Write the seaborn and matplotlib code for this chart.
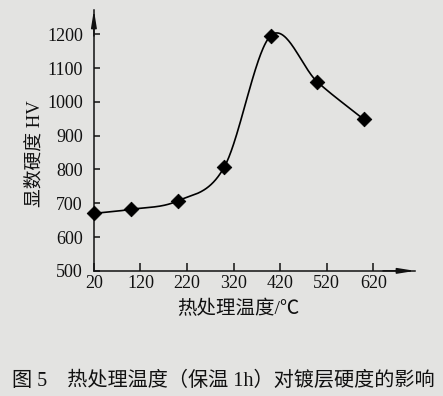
import numpy as np
import pandas as pd
import matplotlib
matplotlib.use("Agg")
import matplotlib.pyplot as plt
import seaborn as sns

# data
temps = [20, 100, 200, 300, 400, 500, 600]
hardness = [670, 682, 707, 807, 1196, 1059, 948]
xticks = [20, 120, 220, 320, 420, 520, 620]
yticks = [500, 600, 700, 800, 900, 1000, 1100, 1200]

xlabel = "热处理温度/℃"
ylabel = "显数硬度 HV"
caption = "图 5　热处理温度（保温 1h）对镀层硬度的影响"

bg = "#e3e3e1"
fonts = ["Liberation Serif", "Noto Sans CJK SC", "DejaVu Sans"]


def smooth_curve(x, y, per_seg=60):
    # Catmull-Rom style Hermite curve through the measured points
    x = np.asarray(x, float)
    y = np.asarray(y, float)
    n = len(x)
    m = np.empty(n)
    m[0] = (y[1] - y[0]) / (x[1] - x[0])
    m[-1] = (y[-1] - y[-2]) / (x[-1] - x[-2])
    m[1:-1] = (y[2:] - y[:-2]) / (x[2:] - x[:-2])
    xs, ys = [], []
    for i in range(n - 1):
        dx = x[i + 1] - x[i]
        t = np.linspace(0, 1, per_seg, endpoint=(i == n - 2))
        h00 = 2 * t**3 - 3 * t**2 + 1
        h10 = t**3 - 2 * t**2 + t
        h01 = -2 * t**3 + 3 * t**2
        h11 = t**3 - t**2
        xs.append(x[i] + t * dx)
        ys.append(h00 * y[i] + h10 * dx * m[i] + h01 * y[i + 1] + h11 * dx * m[i + 1])
    return np.concatenate(xs), np.concatenate(ys)


sns.set_style("ticks")
plt.rcParams["font.family"] = fonts

df = pd.DataFrame({"temp": temps, "hv": hardness})
cx, cy = smooth_curve(temps, hardness)
curve = pd.DataFrame({"temp": cx, "hv": cy})

fig = plt.figure(figsize=(4.43, 3.96), dpi=100)
fig.patch.set_facecolor(bg)
ax = fig.add_axes([0.212, 0.316, 0.725, 0.659])
ax.set_facecolor(bg)

sns.lineplot(data=curve, x="temp", y="hv", ax=ax, color="black", lw=1.2,
             sort=False, estimator=None)
sns.scatterplot(data=df, x="temp", y="hv", ax=ax, marker="D", s=55,
                color="black", edgecolor="black", zorder=5, clip_on=False)

ax.set_xlim(20, 710)
ax.set_ylim(500, 1272)
ax.set_xticks(xticks)
ax.set_yticks(yticks)
ax.set_xlabel("")
ax.set_ylabel("")
for s in ["top", "right"]:
    ax.spines[s].set_visible(False)
for s in ["left", "bottom"]:
    ax.spines[s].set_linewidth(1.1)
    ax.spines[s].set_color("#111111")
ax.tick_params(axis="x", direction="in", length=5.5, width=1.1, pad=3,
               labelsize=13, colors="#111111")
ax.tick_params(axis="y", direction="in", length=4, width=1.1, pad=8,
               labelsize=13, colors="#111111")

# axis arrows
ax.annotate("", xy=(1.0, 0), xytext=(0.9, 0), xycoords="axes fraction",
            arrowprops=dict(arrowstyle="-|>,head_length=1.0,head_width=0.16",
                            color="#111111", lw=1.1, shrinkA=0, shrinkB=0))
ax.annotate("", xy=(0, 1.0), xytext=(0, 0.9), xycoords="axes fraction",
            arrowprops=dict(arrowstyle="-|>,head_length=1.0,head_width=0.16",
                            color="#111111", lw=1.1, shrinkA=0, shrinkB=0))

fig.text(238 / 443, 1 - 309 / 396, xlabel, ha="center", va="center",
         fontsize=14, color="#111111")
fig.text(35 / 443, 1 - 154 / 396, ylabel, ha="center", va="center",
         rotation=90, fontsize=13.5, color="#111111")
fig.text(223 / 443, 1 - 381 / 396, caption, ha="center", va="center",
         fontsize=14.5, color="#111111")

fig.savefig("out.png", dpi=100, facecolor=bg)
